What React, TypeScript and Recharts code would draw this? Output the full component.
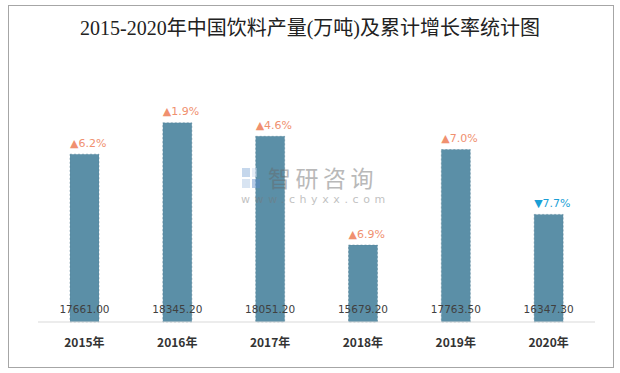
import { BarChart, Bar, XAxis, YAxis, LabelList } from "recharts";

const years = ["2015年", "2016年", "2017年", "2018年", "2019年", "2020年"];
const output = [17661.0, 18345.2, 18051.2, 15679.2, 17763.5, 16347.3];
const growth = [6.2, 1.9, 4.6, 6.9, 7.0, -7.7];

const data = years.map((year, i) => ({ year, output: output[i], growth: growth[i] }));

const BAR = "#5b8fa7";
const UP = "#f0906f";
const DOWN = "#1b9fd6";

function ValueLabel(props: any) {
  const { x, y, width, height, value } = props;
  return (
    <text
      x={x + width / 2}
      y={y + height - 13}
      textAnchor="middle"
      dominantBaseline="central"
      fontSize={10.5}
      fontFamily="'DejaVu Sans', sans-serif"
      fill="#404040"
    >
      {Number(value).toFixed(2)}
    </text>
  );
}

function GrowthLabel(props: any) {
  const { x, y, value } = props;
  const up = value >= 0;
  return (
    <text
      x={x}
      y={y - 11}
      textAnchor="start"
      dominantBaseline="central"
      fontSize={11}
      fontFamily="'DejaVu Sans', sans-serif"
      fill={up ? UP : DOWN}
    >
      {(up ? "▲" : "▼") + Math.abs(value).toFixed(1) + "%"}
    </text>
  );
}

export default function App() {
  return (
    <div style={{ position: "absolute", left: 0, top: 0, width: 620, height: 373, background: "#fff" }}>
      <div
        style={{
          position: "absolute",
          left: 8,
          top: 5,
          width: 604,
          height: 361,
          border: "1px solid #a6a6a6",
        }}
      />
      <div
        style={{
          position: "absolute",
          left: 0,
          top: 15,
          width: 620,
          textAlign: "center",
          fontSize: 20,
          lineHeight: "26px",
          color: "#222",
          fontFamily: "'Liberation Serif', 'Noto Sans CJK SC', serif",
        }}
      >
        2015-2020年中国饮料产量(万吨)及累计增长率统计图
      </div>
      <div style={{ position: "absolute", left: 0, top: 0 }}>
        <BarChart width={620} height={373} data={data} margin={{ top: 47, right: 25, bottom: 21, left: 38 }}>
          <YAxis hide domain={[14000, 20000]} />
          <XAxis
            dataKey="year"
            height={30}
            axisLine={{ stroke: "#d9d9d9" }}
            tickLine={false}
            tick={{ fontSize: 12, fontWeight: 700, fill: "#333", fontFamily: "'Noto Sans CJK SC', sans-serif" }}
            tickMargin={10}
          />
          <Bar
            dataKey="output"
            fill={BAR}
            barSize={29}
            stroke="#527f95"
            strokeDasharray="2 2"
            strokeWidth={0.5}
            isAnimationActive={false}
          >
            <LabelList dataKey="output" content={<ValueLabel />} />
            <LabelList dataKey="growth" content={<GrowthLabel />} />
          </Bar>
        </BarChart>
      </div>
      <div style={{ position: "absolute", left: 241, top: 163, opacity: 0.45, pointerEvents: "none" }}>
        <svg width={20} height={22} style={{ position: "absolute", left: 0, top: 4 }}>
          <rect x={1} y={1} width={8} height={9} fill="#7fa7d6" />
          <rect x={1} y={12} width={8} height={9} fill="#a9c4e4" />
          <rect x={11} y={12} width={8} height={9} fill="#5d8ccc" />
          <rect x={11} y={1} width={5} height={9} fill="#c8d8ee" />
        </svg>
        <div
          style={{
            position: "absolute",
            left: 27,
            top: 0,
            fontSize: 23,
            lineHeight: "28px",
            letterSpacing: 4.5,
            color: "#666",
            whiteSpace: "nowrap",
            fontFamily: "'Noto Sans CJK SC', sans-serif",
          }}
        >
          智研咨询
        </div>
        <div
          style={{
            position: "absolute",
            left: 0,
            top: 30,
            fontSize: 11,
            lineHeight: "13px",
            letterSpacing: 4.6,
            color: "#777",
            whiteSpace: "nowrap",
            fontFamily: "'DejaVu Sans', sans-serif",
          }}
        >
          www.chyxx.com
        </div>
      </div>
    </div>
  );
}
